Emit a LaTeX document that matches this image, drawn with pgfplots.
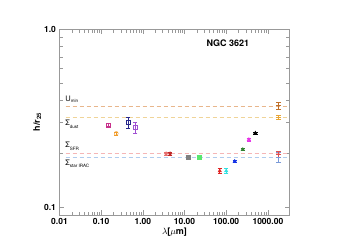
\documentclass[border=0pt]{standalone}
\usepackage{pgfplots}
\pgfplotsset{compat=1.18}
\usepackage{fontspec}
\setmainfont{TeX Gyre Heros}
\definecolor{cUmin}{RGB}{232,182,140}
\definecolor{cDust}{RGB}{240,212,152}
\definecolor{cSFR}{RGB}{245,182,182}
\definecolor{cStar}{RGB}{176,204,238}
\definecolor{eUmin}{HTML}{C0702A}
\definecolor{eDust}{HTML}{E8A535}
\definecolor{eSFR}{HTML}{E05050}
\definecolor{eStar}{HTML}{7A9AD8}
\definecolor{p1}{RGB}{200,50,140}
\definecolor{p2}{RGB}{240,155,40}
\definecolor{p3}{RGB}{40,40,140}
\definecolor{p4}{RGB}{160,80,210}
\definecolor{p5}{RGB}{230,110,110}
\definecolor{p6}{RGB}{190,40,40}
\definecolor{p7}{RGB}{128,128,128}
\definecolor{p8}{RGB}{90,230,110}
\definecolor{p9}{RGB}{225,35,35}
\definecolor{p10}{RGB}{50,225,225}
\definecolor{p11}{RGB}{20,50,230}
\definecolor{p12}{RGB}{50,130,50}
\definecolor{p13}{RGB}{230,50,230}
\begin{document}
\begin{tikzpicture}[x=1pt,y=1pt]
\path[fill=white] (0,0) rectangle (347,245);
\begin{axis}[at={(59.5pt,30pt)}, anchor=south west, scale only axis,
  width=230pt, height=185.7pt,
  xmode=log, ymode=log, xmin=0.01, xmax=3300, ymin=0.0905, ymax=1.0,
  xtick={0.01,0.1,1,10,100,1000}, xticklabels={0.01,0.10,1.00,10.00,100.00,1000.00},
  ytick={0.1,1}, yticklabels={0.1,1.0},
  tick label style={font=\fontsize{8.5}{9}\selectfont\bfseries},
  /pgf/number format/assume math mode=true,
  axis line style={gray!80},
  tick style={gray!80, line width=0.6pt},
  major tick length=5pt, minor tick length=3.5pt,
  xlabel={$\lambda$[$\mu$m]},
  ylabel={h/r$_{\mathbf{25}}$},
  label style={font=\fontsize{9}{10}\selectfont\bfseries},
  xlabel style={yshift=4pt},
  ylabel style={yshift=-4pt},
  clip=false,
]
% reference lines
\addplot[cUmin, dash pattern=on 4pt off 3pt, line width=0.6pt] coordinates {(0.014,0.371) (3300,0.371)};
\addplot[cDust, dash pattern=on 4pt off 3pt, line width=0.6pt] coordinates {(0.014,0.320) (3300,0.320)};
\addplot[cSFR, dash pattern=on 4pt off 3pt, line width=0.6pt] coordinates {(0.014,0.201) (3300,0.201)};
\addplot[cStar, dash pattern=on 4pt off 3pt, line width=0.6pt] coordinates {(0.014,0.191) (3300,0.191)};
% right-side error bars
\pgfplotsset{eb/.style={only marks, mark=-, mark size=2.5pt, mark options={line width=0.7pt}, error bars/.cd, y dir=both, y explicit, error bar style={line width=0.7pt}, error mark options={rotate=90, mark size=2.5pt, line width=0.7pt}}}
\addplot[eUmin, eb] coordinates {(1800,0.372) +- (0,0.018)};
\addplot[eDust, eb] coordinates {(1800,0.320) +- (0,0.007)};
\addplot[eStar, eb] coordinates {(1800,0.191) +- (0,0.012)};
\addplot[eSFR, eb] coordinates {(1800,0.199) +- (0,0.007)};
% data points
\pgfplotsset{pt/.style={only marks, mark size=2pt, error bars/.cd, y dir=both, y explicit, error bar style={line width=0.6pt}, error mark options={rotate=90, mark size=2.2pt, line width=0.6pt}}}
\addplot[color=p1, mark=square, pt] coordinates {(0.15,0.290) +- (0,0.006)};
\addplot[color=p2, mark=o, pt] coordinates {(0.23,0.260) +- (0,0.005)};
\addplot[color=p3, mark=square, pt] coordinates {(0.44,0.300) +- (0,0.021)};
\addplot[color=p4, mark=square, pt] coordinates {(0.65,0.281) +- (0,0.019)};
\addplot[color=p5, mark=diamond*, pt] coordinates {(3.6,0.200) +- (0,0.003)};
\addplot[color=p6, mark=diamond*, pt] coordinates {(4.5,0.200) +- (0,0.003)};
\addplot[color=p7, mark=square*, pt] coordinates {(12,0.191) +- (0,0.004)};
\addplot[color=p8, mark=square*, pt] coordinates {(22,0.191) +- (0,0.004)};
\addplot[color=p9, mark=triangle*, pt] coordinates {(70,0.160) +- (0,0.005)};
\addplot[color=p10, mark=triangle*, pt] coordinates {(100,0.160) +- (0,0.005)};
\addplot[color=p11, mark=triangle*, pt] coordinates {(160,0.181) +- (0,0.003)};
\addplot[color=p12, mark=triangle*, pt] coordinates {(250,0.211) +- (0,0.003)};
\addplot[color=p13, mark=triangle*, pt] coordinates {(350,0.240) +- (0,0.004)};
\addplot[color=black, mark=triangle*, pt] coordinates {(500,0.261) +- (0,0.003)};
% labels
\node[font=\fontsize{9}{10}\selectfont\bfseries] at (axis cs:110,0.838) {NGC 3621};
\node[anchor=west, font=\fontsize{7.5}{8}\selectfont, inner sep=0pt] at (axis cs:0.0137,0.405) {U\raisebox{-0.4ex}{\fontsize{4.5}{5}\selectfont min}};
\node[anchor=west, font=\fontsize{7.5}{8}\selectfont, inner sep=0pt] at (axis cs:0.0137,0.293) {Σ\raisebox{-0.6ex}{\fontsize{4.5}{5}\selectfont dust}};
\node[anchor=west, font=\fontsize{7.5}{8}\selectfont, inner sep=0pt] at (axis cs:0.0137,0.220) {Σ\raisebox{-0.6ex}{\fontsize{4.5}{5}\selectfont SFR}};
\node[anchor=west, font=\fontsize{7.5}{8}\selectfont, inner sep=0pt] at (axis cs:0.0137,0.176) {Σ\raisebox{-0.6ex}{\fontsize{4.5}{5}\selectfont star IRAC}};
\end{axis}
\end{tikzpicture}
\end{document}
